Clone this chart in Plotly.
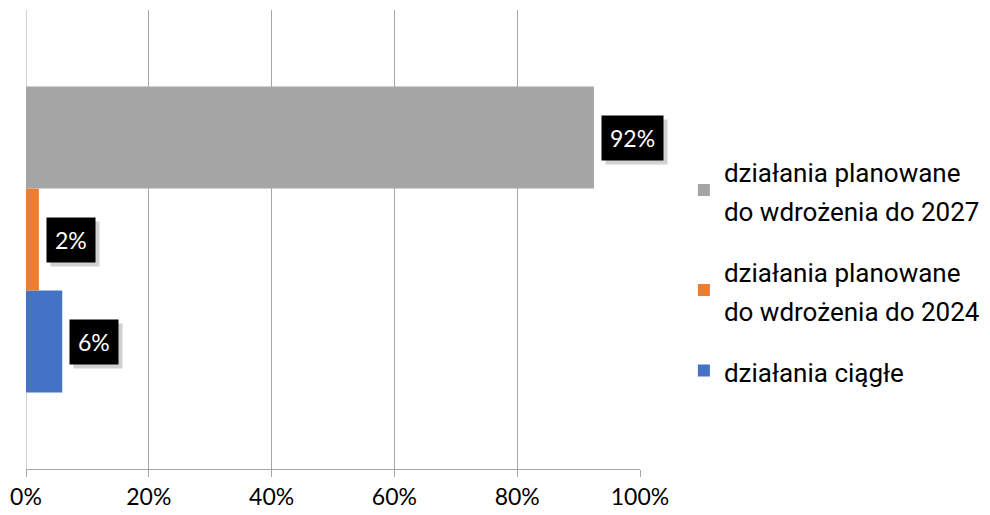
import plotly.graph_objects as go

categories = [""]
series_names = [
    "działania ciągłe",
    "działania planowane<br>do wdrożenia do 2024",
    "działania planowane<br>do wdrożenia do 2027",
]
series_values = [0.059, 0.021, 0.925]
series_labels = ["6%", "2%", "92%"]
series_colors = ["#4472C4", "#ED7D31", "#A5A5A5"]
tick_values = [0, 0.2, 0.4, 0.6, 0.8, 1.0]
tick_labels = ["0%", "20%", "40%", "60%", "80%", "100%"]

BARGAP = 1 / 3
n = len(series_values)
bar_w = (1 - BARGAP) / n

fig = go.Figure()
annotations = []
for i, (name, val, lab, col) in enumerate(zip(series_names, series_values, series_labels, series_colors)):
    fig.add_trace(go.Bar(
        y=categories, x=[val], name=f'<span style="font-size:26px">{name}</span>',
        orientation="h", marker=dict(color=col, line=dict(width=0)),
        legendgroup=f"g{i}", legendrank=100 - i, hoverinfo="skip",
    ))
    ypos = (i - (n - 1) / 2) * bar_w
    # shadow
    annotations.append(dict(
        x=val, y=ypos, xref="x", yref="y", text=lab, showarrow=False,
        xanchor="left", yanchor="middle", xshift=11, yshift=-4,
        font=dict(family="Lato", size=23, color="rgba(0,0,0,0)"),
        bgcolor="rgba(0,0,0,0.18)", borderpad=8,
    ))
    annotations.append(dict(
        x=val, y=ypos, xref="x", yref="y", text=lab, showarrow=False,
        xanchor="left", yanchor="middle", xshift=7, yshift=0,
        font=dict(family="Lato", size=23, color="white"),
        bgcolor="black", borderpad=8,
    ))

fig.update_layout(
    width=982, height=507,
    margin=dict(l=18, r=350, t=2, b=46, autoexpand=False),
    paper_bgcolor="white", plot_bgcolor="white",
    barmode="group", bargap=BARGAP, bargroupgap=0,
    showlegend=True,
    legend=dict(
        x=1.0715, xanchor="left", y=0.4325, yanchor="middle",
        traceorder="grouped", tracegroupgap=19,
        font=dict(family="Roboto", size=30, color="#000000"),
        itemwidth=30,
    ),
    annotations=annotations,
    xaxis=dict(
        range=[0, 1], tickvals=tick_values, ticktext=tick_labels,
        showgrid=True, gridcolor="#A6A6A6", gridwidth=1,
        showline=True, linecolor="#A6A6A6", linewidth=1,
        ticks="outside", ticklen=7, tickcolor="#A6A6A6",
        tickfont=dict(family="Lato", size=23, color="#000000"),
        zeroline=False, fixedrange=True, automargin=False,
    ),
    yaxis=dict(
        showticklabels=False, showgrid=False, zeroline=False,
        showline=False, ticks="", range=[-0.5, 0.5], fixedrange=True,
        automargin=False,
    ),
)
fig.add_shape(type="line", xref="x", yref="paper", x0=0, x1=0, y0=0, y1=1,
              line=dict(color="#A6A6A6", width=1), layer="below")

fig.write_html("out.html")
